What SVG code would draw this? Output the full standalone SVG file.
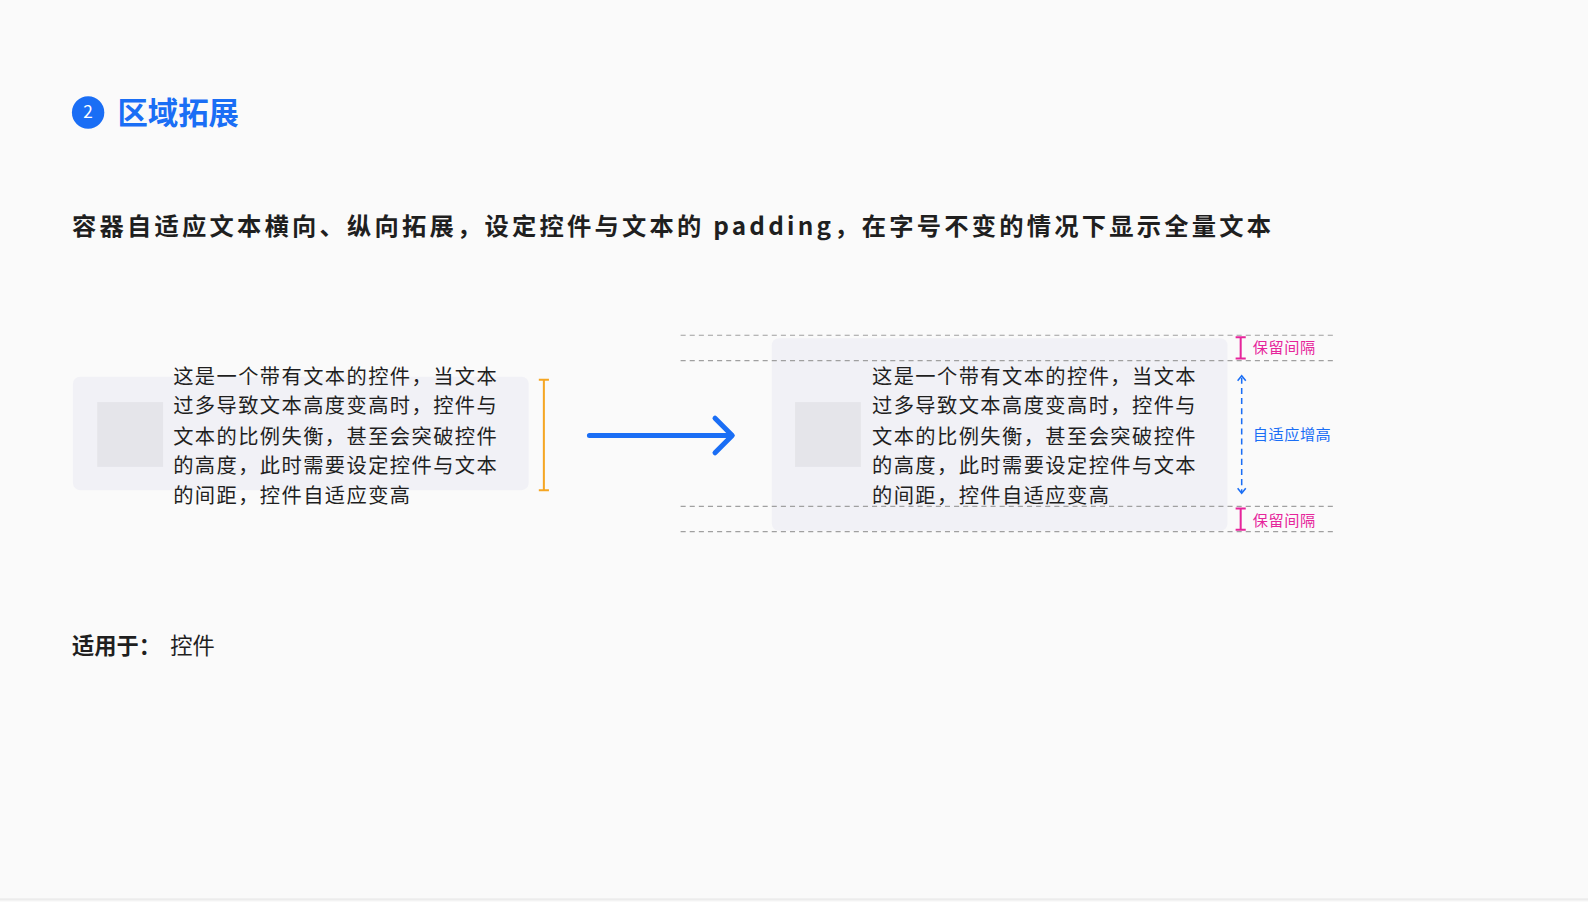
<svg xmlns="http://www.w3.org/2000/svg" width="1588" height="902" viewBox="0 0 1588 902">
<style>
text{font-family:"Noto Sans CJK SC","Noto Sans",sans-serif}
.b{font-size:20px;fill:#1f1f1f;letter-spacing:1.4px}
.pk{font-size:15px;fill:#e6259b;letter-spacing:0.5px}
.dash{stroke:#a0a0a0;stroke-width:1.2;stroke-dasharray:5 4}
</style>
<rect width="1588" height="902" fill="#fafafa"/>
<g transform="scale(1.0128)">
<line x1="0" y1="888" x2="1588" y2="888" stroke="#ececec" stroke-width="2"/>
<g id="heading">
<circle cx="87" cy="111" r="16" fill="#1a6ef5"/>
<text x="87" y="117" font-size="17" fill="#fff" text-anchor="middle">2</text>
<text x="116" y="122" font-size="30" font-weight="700" fill="#1a6ef5">区域拓展</text>
</g>
<text id="desc" x="71" y="232" font-size="24" font-weight="700" fill="#1f1f1f" textLength="1184">容器自适应文本横向、纵向拓展，设定控件与文本的 padding，在字号不变的情况下显示全量文本</text>
<g id="left">
<rect x="72" y="372" width="450" height="112" rx="7" fill="#f1f1f6"/>
<rect x="96" y="397" width="65" height="64" fill="#e5e5ea"/>
<text class="b" x="171" y="379">这是一个带有文本的控件，当文本</text>
<text class="b" x="171" y="408">过多导致文本高度变高时，控件与</text>
<text class="b" x="171" y="438">文本的比例失衡，甚至会突破控件</text>
<text class="b" x="171" y="467">的高度，此时需要设定控件与文本</text>
<text class="b" x="171" y="497">的间距，控件自适应变高</text>
<path d="M537 375V484M532 375H542M532 484H542" stroke="#f5a623" stroke-width="2" fill="none"/>
</g>
<g id="connectors">
<path d="M582 430H722M706 413L723 430L706 447" stroke="#1a6ef5" stroke-width="5" fill="none" stroke-linecap="round" stroke-linejoin="round"/>
</g>
<g id="right">
<rect x="762" y="334" width="450" height="190" rx="7" fill="#f1f1f6"/>
<rect x="785" y="397" width="65" height="64" fill="#e5e5ea"/>
<text class="b" x="861" y="379">这是一个带有文本的控件，当文本</text>
<text class="b" x="861" y="408">过多导致文本高度变高时，控件与</text>
<text class="b" x="861" y="438">文本的比例失衡，甚至会突破控件</text>
<text class="b" x="861" y="467">的高度，此时需要设定控件与文本</text>
<text class="b" x="861" y="497">的间距，控件自适应变高</text>
<line class="dash" x1="672" y1="331" x2="1316" y2="331"/>
<line class="dash" x1="672" y1="356" x2="1316" y2="356"/>
<line class="dash" x1="672" y1="500" x2="1316" y2="500"/>
<line class="dash" x1="672" y1="525" x2="1316" y2="525"/>
<path d="M1225 333V354M1220 333H1230M1220 354H1230M1225 502V523M1220 502H1230M1220 523H1230" stroke="#e6259b" stroke-width="2" fill="none"/>
<text class="pk" x="1237" y="349">保留间隔</text>
<text class="pk" x="1237" y="519">保留间隔</text>
<line x1="1226" y1="373" x2="1226" y2="486" stroke="#1a6ef5" stroke-width="1.5" stroke-dasharray="6 4"/>
<path d="M1222 376L1226 371L1230 376M1222 482L1226 487L1230 482" stroke="#1a6ef5" stroke-width="1.5" fill="none"/>
<text x="1237" y="434" font-size="15" fill="#1a6ef5" letter-spacing="0.5">自适应增高</text>
</g>
<text id="applies" x="71" y="646" font-size="22" fill="#1f1f1f"><tspan font-weight="700">适用于：</tspan><tspan x="168">控件</tspan></text>
</g>
</svg>
